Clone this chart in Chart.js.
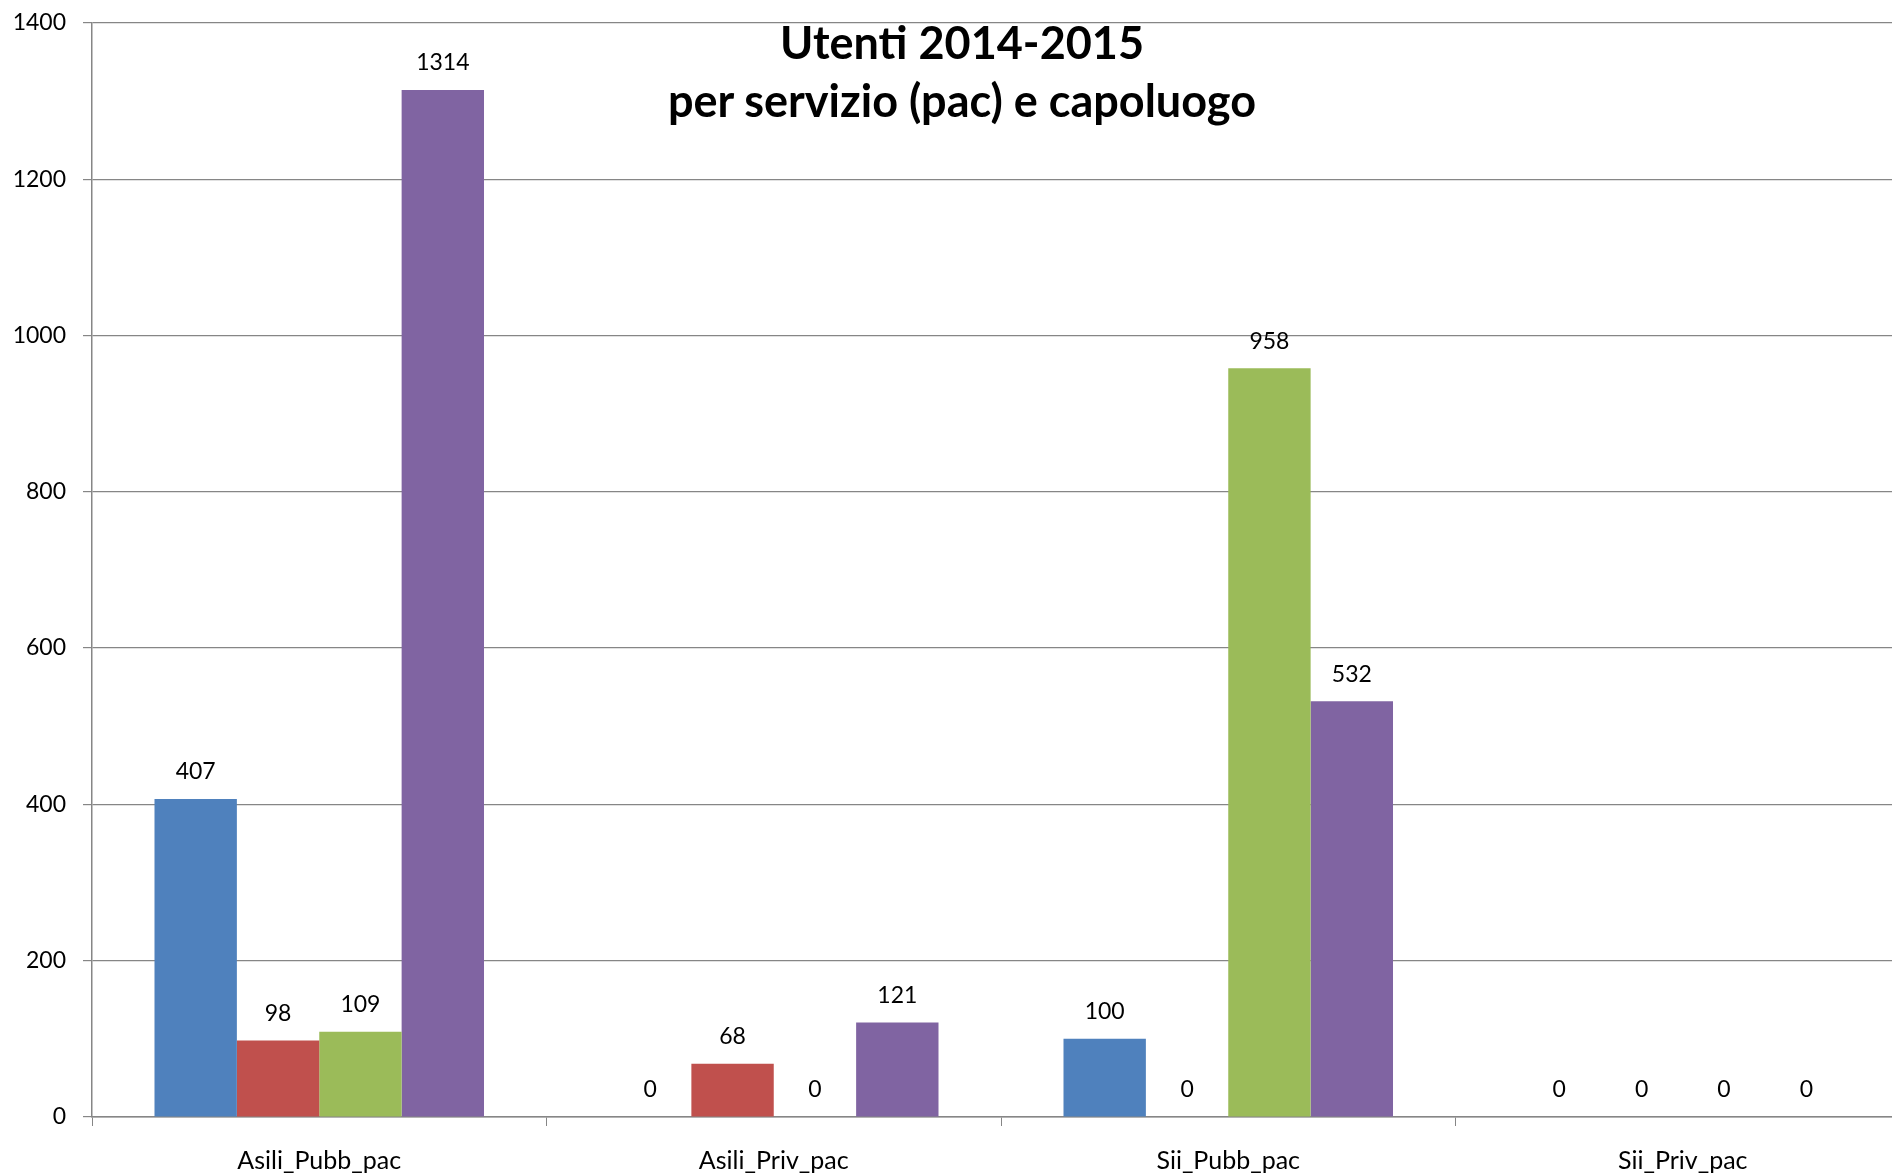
<!DOCTYPE html>
<html>
<head>
<meta charset="utf-8">
<script src="https://cdn.jsdelivr.net/npm/chart.js@4"></script>
<style>
  html, body { margin: 0; padding: 0; background: #fff; overflow: hidden; }
  #wrap { position: relative; width: 1892px; height: 1175px; overflow: hidden; }
  #chart { position: absolute; left: 0; top: -8px; }
  #title {
    position: absolute; left: 462px; width: 1000px; top: 13px;
    text-align: center; font-family: Lato, sans-serif; font-weight: bold;
    font-size: 45px; line-height: 58px; color: #000;
  }
</style>
</head>
<body>
<div id="wrap">
  <canvas id="chart" width="1910" height="1183"></canvas>
  <div id="title">Utenti 2014-2015<br>per servizio (pac) e capoluogo</div>
</div>
<script>
var categories = ['Asili_Pubb_pac', 'Asili_Priv_pac', 'Sii_Pubb_pac', 'Sii_Priv_pac'];
var serie1 = [407, 0, 100, 0];
var serie2 = [98, 68, 0, 0];
var serie3 = [109, 0, 958, 0];
var serie4 = [1314, 121, 532, 0];
var yTicks = [0, 200, 400, 600, 800, 1000, 1200, 1400];

var colori = ['#4F81BD', '#C0504D', '#9BBB59', '#8064A2'];
var grigio = '#868686';

// etichette dei valori sopra le barre
var valueLabels = {
  id: 'valueLabels',
  afterDatasetsDraw: function (chart) {
    var ctx = chart.ctx;
    ctx.save();
    ctx.font = '23px Lato, sans-serif';
    ctx.fillStyle = '#000';
    ctx.textAlign = 'center';
    ctx.textBaseline = 'middle';
    chart.data.datasets.forEach(function (ds, i) {
      var meta = chart.getDatasetMeta(i);
      meta.data.forEach(function (bar, j) {
        ctx.fillText(String(ds.data[j]), bar.x, bar.y - 27);
      });
    });
    ctx.restore();
  }
};

new Chart(document.getElementById('chart').getContext('2d'), {
  type: 'bar',
  data: {
    labels: categories,
    datasets: [
      { label: 'Serie1', data: serie1, backgroundColor: colori[0] },
      { label: 'Serie2', data: serie2, backgroundColor: colori[1] },
      { label: 'Serie3', data: serie3, backgroundColor: colori[2] },
      { label: 'Serie4', data: serie4, backgroundColor: colori[3] }
    ]
  },
  options: {
    responsive: false,
    animation: false,
    layout: { padding: { top: 6, right: 0, left: 0, bottom: 0 } },
    datasets: { bar: { barPercentage: 1, categoryPercentage: 0.725 } },
    plugins: {
      legend: { display: false },
      title: { display: false },
      tooltip: { enabled: false }
    },
    scales: {
      x: {
        grid: {
          offset: true,
          drawOnChartArea: false,
          drawTicks: true,
          tickLength: 9,
          color: grigio
        },
        border: { color: grigio, width: 1.5 },
        ticks: {
          color: '#000',
          padding: 20,
          font: { family: 'Lato, sans-serif', size: 25 }
        },
        afterFit: function (s) { s.height = 58; }
      },
      y: {
        min: 0,
        max: 1400,
        afterBuildTicks: function (s) {
          s.ticks = yTicks.map(function (v) { return { value: v }; });
        },
        grid: { color: grigio, lineWidth: 1.2, tickLength: 9 },
        border: { color: grigio, width: 1.5 },
        ticks: {
          color: '#000',
          padding: 17,
          font: { family: 'Lato, sans-serif', size: 23 },
          callback: function (v) { return String(v); }
        },
        afterFit: function (s) { s.width = 92; }
      }
    }
  },
  plugins: [valueLabels]
});
</script>
</body>
</html>
